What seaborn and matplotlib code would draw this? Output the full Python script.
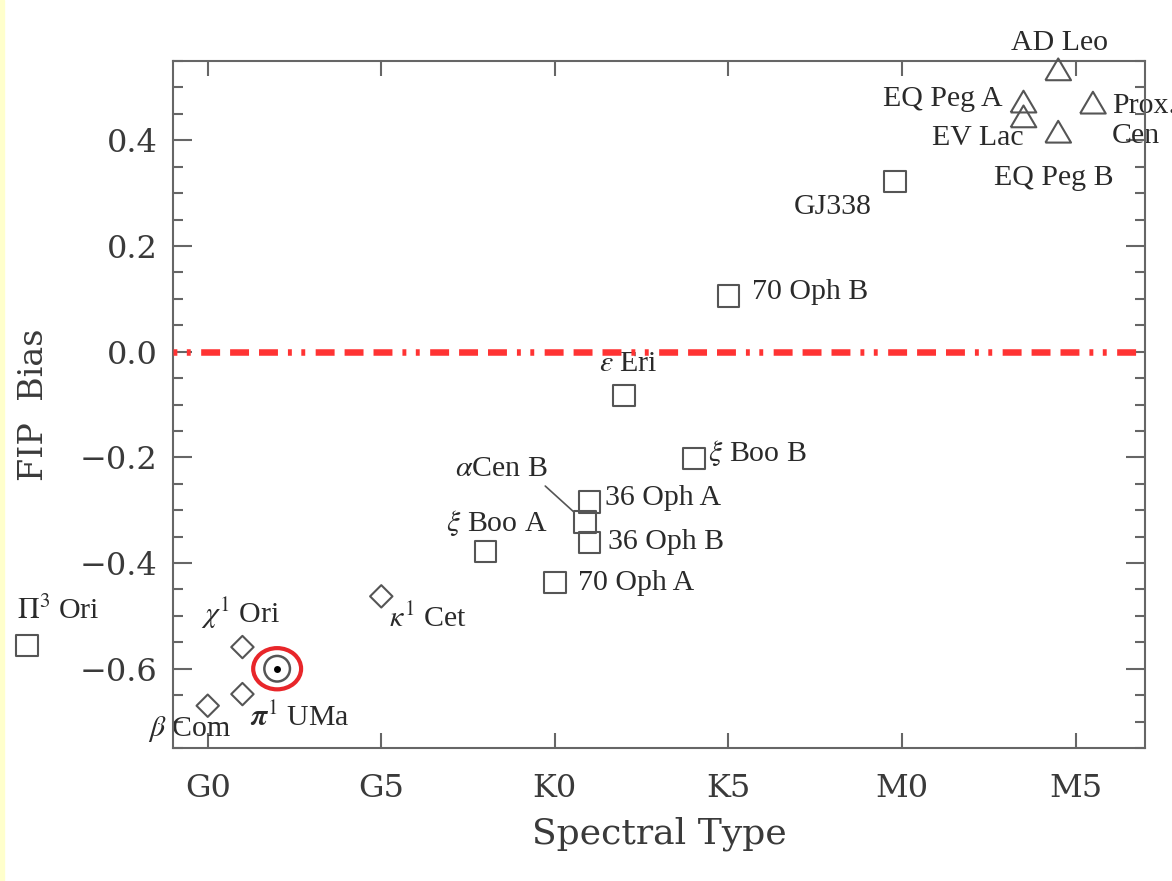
import matplotlib
matplotlib.use("Agg")
import matplotlib.pyplot as plt
from matplotlib.patches import Ellipse, Rectangle
from matplotlib.ticker import MultipleLocator
import pandas as pd
import seaborn as sns

# spectral subclass on a running scale: G0 = 0, G5 = 5, K0 = 10, K5 = 15, M0 = 20, M5 = 25
stars = ["Pi3 Ori", "chi1 Ori", "pi1 UMa", "beta Com", "kappa1 Cet", "xi Boo A",
         "70 Oph A", "alpha Cen B", "36 Oph A", "36 Oph B", "eps Eri", "xi Boo B",
         "70 Oph B", "GJ338", "EQ Peg A", "EV Lac", "AD Leo", "EQ Peg B", "Prox Cen"]
labels = [r"$\Pi^3$ Ori", r"$\chi^1$ Ori", r"$\boldsymbol{\pi}^1$ UMa", r"$\beta$ Com",
          r"$\kappa^1$ Cet", r"$\xi$ Boo A", "70 Oph A", r"$\alpha$Cen B", "36 Oph A",
          "36 Oph B", r"$\varepsilon$ Eri", r"$\xi$ Boo B", "70 Oph B", "GJ338",
          "EQ Peg A", "EV Lac", "AD Leo", "EQ Peg B", "Prox.\nCen"]
spec_type = [-5.2, 1.0, 1.0, 0.0, 5.0, 8.0, 10.0, 10.86, 11.0, 11.0, 12.0, 14.0,
             15.0, 19.8, 23.5, 23.5, 24.5, 24.5, 25.5]
fip_bias = [-0.556, -0.559, -0.648, -0.670, -0.463, -0.378, -0.437, -0.322, -0.284,
            -0.361, -0.083, -0.202, 0.106, 0.322, 0.472, 0.444, 0.533, 0.415, 0.470]
kind = ["square", "diamond", "diamond", "diamond", "diamond", "square", "square",
        "square", "square", "square", "square", "square", "square", "square",
        "triangle", "triangle", "triangle", "triangle", "triangle"]

sun_type = [2.0]
sun_fip = [-0.60]

xtick_pos = [0, 5, 10, 15, 20, 25]
xtick_labels = ["G0", "G5", "K0", "K5", "M0", "M5"]
ytick_pos = [-0.6, -0.4, -0.2, 0.0, 0.2, 0.4]
ytick_labels = ["\u22120.6", "\u22120.4", "\u22120.2", "0.0", "0.2", "0.4"]

# label placement: offset in pixels from the marker, horizontal alignment
label_pos = {
    "Pi3 Ori": (31, 35, "center"), "chi1 Ori": (-2, 34, "center"),
    "pi1 UMa": (57, -23, "center"), "beta Com": (-18, -23, "center"),
    "kappa1 Cet": (47, -22, "center"), "xi Boo A": (11, 28, "center"),
    "70 Oph A": (23, 0, "left"), "alpha Cen B": (-83, 53, "center"),
    "36 Oph A": (15, 4, "left"), "36 Oph B": (18, 0, "left"),
    "eps Eri": (4, 32, "center"), "xi Boo B": (14, 5, "left"),
    "70 Oph B": (24, 4, "left"), "GJ338": (-23, -26, "right"),
    "EQ Peg A": (-21, 3, "right"), "EV Lac": (0, -21, "right"),
    "AD Leo": (1, 27, "center"), "EQ Peg B": (-4, -46, "center"),
    "Prox Cen": (19, -18, "left"),
}

sns.set_style("ticks")
plt.rcParams["mathtext.fontset"] = "stix"
plt.rcParams["font.family"] = ["DejaVu Serif"]

df = pd.DataFrame({"spec": spec_type, "fip": fip_bias, "kind": kind, "star": stars})

fig = plt.figure(figsize=(11.72, 8.81), dpi=100)
fig.patches.append(Rectangle((0, 0), 4 / 1172, 1, transform=fig.transFigure,
                             color="#ffffcc", zorder=0))
ax = fig.add_axes([173 / 1172, 1 - 748 / 881, 972 / 1172, 687 / 881])

tri = [(-1, -0.8), (1, -0.8), (0, 0.9), (-1, -0.8)]
sns.scatterplot(data=df, x="spec", y="fip", style="kind", size="kind",
                markers={"square": "s", "diamond": "D", "triangle": tri},
                sizes={"square": 245, "diamond": 130, "triangle": 340},
                facecolor="none", edgecolor="#555555", linewidth=1.5,
                legend=False, clip_on=False, zorder=3, ax=ax)

# the Sun, circled
sns.scatterplot(x=sun_type, y=sun_fip, s=340, facecolor="none", edgecolor="#555555",
                linewidth=1.8, legend=False, zorder=3, ax=ax)
sns.scatterplot(x=sun_type, y=sun_fip, s=25, color="black", linewidth=0,
                legend=False, zorder=4, ax=ax)
ax.add_patch(Ellipse((sun_type[0], sun_fip[0]), 1.38, 0.078, fill=False,
                     ec="#e8262a", lw=3, zorder=5))

for name, lab, x, y in zip(stars, labels, spec_type, fip_bias):
    dx, dy, ha = label_pos[name]
    kw = {}
    if name == "alpha Cen B":
        kw["arrowprops"] = dict(arrowstyle="-", color="#555555", lw=1.2,
                                relpos=(0.92, 0.0), shrinkA=1, shrinkB=11)
    ax.annotate(lab, (x, y), xytext=(dx, dy), textcoords="offset pixels",
                ha=ha, va="center", fontsize=21.5, family="Liberation Serif",
                color="#2a2a2a", annotation_clip=False, zorder=2, **kw)

# zero line: three dashes then two dots
ax.axhline(0, color="#ff3333", lw=4.7, zorder=6,
           linestyle=(13.3, (2.9, 1.53, 2.9, 1.53, 2.9, 1.53, 0.6, 1.45, 0.6, 1.6)))

ax.set_xlim(-1, 27)
ax.set_ylim(-0.75, 0.55)
ax.set_xticks(xtick_pos, xtick_labels)
ax.set_yticks(ytick_pos, ytick_labels)
ax.yaxis.set_minor_locator(MultipleLocator(0.05))
ax.tick_params(axis="both", which="both", direction="in", top=True, right=True,
               color="#666666", width=1.5, labelcolor="#3a3a3a", labelsize=23)
ax.tick_params(axis="y", which="major", length=14, pad=11)
ax.tick_params(axis="y", which="minor", length=7.5)
ax.tick_params(axis="x", which="major", length=11, pad=18)
for s in ax.spines.values():
    s.set_color("#666666")
    s.set_linewidth(1.5)

ax.set_xlabel("Spectral Type", fontsize=26, color="#3a3a3a")
ax.set_ylabel("FIP  Bias", fontsize=24, color="#3a3a3a")
ax.xaxis.set_label_coords(0.5, -0.1)
ax.yaxis.set_label_coords(-0.127, 0.5)

fig.savefig("out.png", dpi=100)
